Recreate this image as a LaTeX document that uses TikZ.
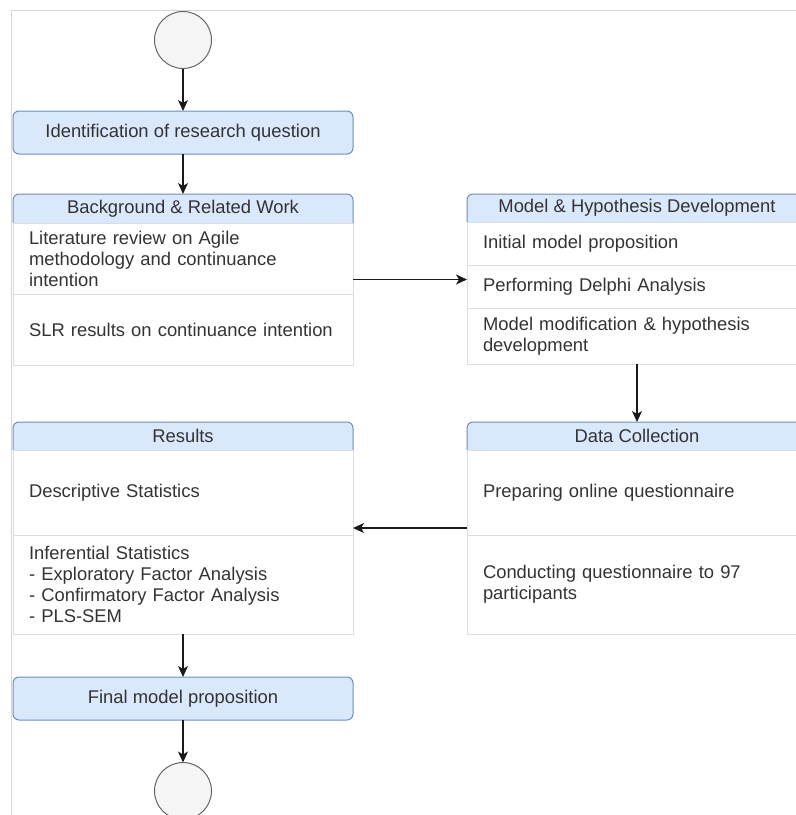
\documentclass[tikz,border=0pt]{standalone}
\usepackage{fontspec}
\setmainfont{Liberation Sans}
\usetikzlibrary{arrows.meta,fit,backgrounds}

\definecolor{laneblue}{HTML}{DAE8FC}
\definecolor{laneedge}{HTML}{6C8EBF}
\definecolor{rowedge}{HTML}{DDDDDD}
\definecolor{txt}{HTML}{333333}
\definecolor{termfill}{HTML}{F5F5F5}
\definecolor{termedge}{HTML}{666666}
\definecolor{frameline}{HTML}{D6D6D6}
\definecolor{wire}{HTML}{1A1A1A}

\tikzset{
  every node/.style={font=\fontsize{18.4}{21}\selectfont, text=txt, outer sep=0pt},
  terminal/.style={circle, draw=termedge, fill=termfill, line width=1pt,
    minimum size=57pt, inner sep=0pt},
  stepbox/.style={rectangle, rounded corners=6pt, draw=laneedge, fill=laneblue,
    line width=1pt, minimum width=340pt, minimum height=43pt, inner sep=0pt},
  lanetitle/.style={rectangle, anchor=north west, minimum width=340pt, inner sep=0pt},
  lanerow/.style={rectangle, anchor=north west, draw=rowedge, line width=1pt,
    minimum width=340pt, text width=308pt, inner xsep=16pt, inner ysep=0pt, align=left},
  lanebox/.style={rectangle, inner sep=0pt},
  headfill/.style={fill=laneblue, rounded corners=6pt},
  headline/.style={draw=laneedge, line width=1pt, rounded corners=6pt},
  flow/.style={draw=wire, line width=1.4pt, -{Stealth[length=11pt,width=10pt,inset=3pt]}},
  border/.style={draw=frameline, line width=1pt}
}

% draws the blue title bar (rounded top corners only) behind a lane title node
\newcommand{\lanebar}[1]{%
  \begin{scope}[on background layer]
    \path[headfill] (#1.south west) -- (#1.north west) -- (#1.north east) -- (#1.south east);
    \path[headline] (#1.south west) -- (#1.north west) -- (#1.north east) -- (#1.south east);
  \end{scope}}

\begin{document}
\begin{tikzpicture}[x=1pt,y=-1pt]
\useasboundingbox (0,0) rectangle (796,815);
\clip (0,0) rectangle (796,815);

% page frame
\draw[border] (11,815) -- (11,10.5) -- (796,10.5);

% start, first step
\node[terminal] (start) at (183,40) {};
\node[stepbox] (ident) at (183,132.5) {Identification of research question};

% Background & Related Work
\node[lanetitle, minimum height=29pt] (bgH) at (13,194) {Background \& Related Work};
\node[lanerow, minimum height=71pt] (bgA) at (bgH.south west)
  {Literature review on Agile\\methodology and continuance\\intention};
\node[lanerow, minimum height=71pt] (bgB) at (bgA.south west)
  {SLR results on continuance intention};
\node[lanebox, fit=(bgH)(bgB)] (bg) {};
\lanebar{bgH}

% Model & Hypothesis Development
\node[lanetitle, minimum height=28pt] (mdH) at (467,194) {Model \& Hypothesis Development};
\node[lanerow, minimum height=43pt] (mdA) at (mdH.south west) {Initial model proposition};
\node[lanerow, minimum height=43pt] (mdB) at (mdA.south west) {Performing Delphi Analysis};
\node[lanerow, minimum height=56pt] (mdC) at (mdB.south west)
  {Model modification \& hypothesis\\development};
\node[lanebox, fit=(mdH)(mdC)] (md) {};
\lanebar{mdH}

% Data Collection
\node[lanetitle, minimum height=28pt] (dcH) at (467,422) {Data Collection};
\node[lanerow, minimum height=85pt] (dcA) at (dcH.south west) {Preparing online questionnaire};
\node[lanerow, minimum height=99pt] (dcB) at (dcA.south west)
  {Conducting questionnaire to 97\\participants};
\node[lanebox, fit=(dcH)(dcB)] (dc) {};
\lanebar{dcH}

% Results
\node[lanetitle, minimum height=28pt] (rsH) at (13,422) {Results};
\node[lanerow, minimum height=85pt] (rsA) at (rsH.south west) {Descriptive Statistics};
\node[lanerow, minimum height=99pt] (rsB) at (rsA.south west)
  {Inferential Statistics\\- Exploratory Factor Analysis\\- Confirmatory Factor Analysis\\- PLS-SEM};
\node[lanebox, fit=(rsH)(rsB)] (rs) {};
\lanebar{rsH}

% last step, end
\node[stepbox] (final) at (183,698.5) {Final model proposition};
\node[terminal] (stop) at (183,791) {};

% connectors
\draw[flow] (start) -- (ident);
\draw[flow] (ident.south) -- (bgH.north);
\draw[flow] (bg.east) -- (bg.east -| md.west);
\draw[flow] (md.south) -- (dc.north);
\draw[flow] (dc.west) -- (dc.west -| rs.east);
\draw[flow] (rs.south) -- (final.north);
\draw[flow] (final.south) -- (stop.north);
\end{tikzpicture}
\end{document}
